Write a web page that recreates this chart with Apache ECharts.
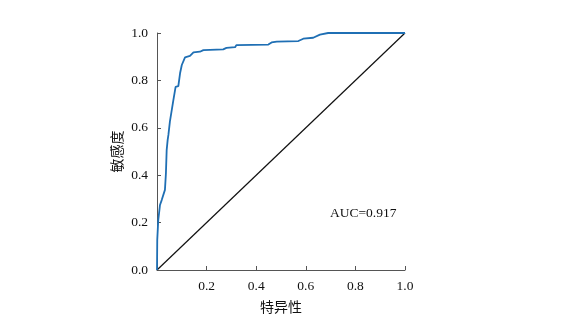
<!DOCTYPE html>
<html>
<head>
<meta charset="utf-8">
<script src="https://cdn.jsdelivr.net/npm/echarts@6/dist/echarts.min.js"></script>
<style>html,body{margin:0;padding:0;background:#fff}#c{width:586px;height:326px}</style>
</head>
<body>
<div id="c"></div>
<script>
// 1 - specificity (x) and sensitivity (y) of ROC curve
const rocX = [0, 0.001, 0.005, 0.012, 0.019, 0.032, 0.036, 0.039, 0.043, 0.046, 0.052, 0.058, 0.066, 0.075, 0.086, 0.093, 0.1, 0.113, 0.133, 0.147, 0.173, 0.187, 0.267, 0.28, 0.315, 0.32, 0.449, 0.462, 0.483, 0.57, 0.59, 0.63, 0.657, 0.69, 1.0];
const rocY = [0, 0.127, 0.21, 0.274, 0.295, 0.338, 0.408, 0.506, 0.549, 0.57, 0.626, 0.632, 0.717, 0.773, 0.776, 0.83, 0.865, 0.897, 0.903, 0.918, 0.921, 0.928, 0.931, 0.937, 0.94, 0.949, 0.951, 0.96, 0.964, 0.966, 0.976, 0.98, 0.993, 1.0, 1.0];
const refX = [0, 1];
const refY = [0, 1];
const xTicks = ['0.2', '0.4', '0.6', '0.8', '1.0'];
const yTicks = ['0.0', '0.2', '0.4', '0.6', '0.8', '1.0'];
const aucText = 'AUC=0.917';
const xName = '特异性';
const yName = '敏感度';

const serif = '"Liberation Serif", "DejaVu Serif", "Noto Sans CJK SC", serif';
const chart = echarts.init(document.getElementById('c'));
chart.setOption({
  animation: false,
  backgroundColor: '#fff',
  grid: { left: 157, right: 181, top: 33, bottom: 56, containLabel: false },
  xAxis: {
    type: 'value', min: 0, max: 1, interval: 0.2,
    name: xName, nameLocation: 'middle', nameGap: 30,
    nameTextStyle: { fontFamily: '"Noto Sans CJK SC"', fontSize: 14, color: '#111' },
    axisLine: { show: true, lineStyle: { color: '#555', width: 1 } },
    axisTick: { show: true, inside: true, length: 4, lineStyle: { color: '#555' } },
    splitLine: { show: false },
    axisLabel: {
      fontFamily: serif, fontSize: 13.5, color: '#111', margin: 10,
      formatter: v => { const s = v.toFixed(1); return xTicks.includes(s) ? s : ''; }
    }
  },
  yAxis: {
    type: 'value', min: 0, max: 1, interval: 0.2,
    name: yName, nameLocation: 'middle', nameGap: 33, nameRotate: 90,
    nameTextStyle: { fontFamily: '"Noto Sans CJK SC"', fontSize: 14, color: '#111' },
    axisLine: { show: true, lineStyle: { color: '#555', width: 1 } },
    axisTick: { show: true, inside: true, length: 4, lineStyle: { color: '#555' } },
    splitLine: { show: false },
    axisLabel: {
      fontFamily: serif, fontSize: 13.5, color: '#111', margin: 9,
      formatter: v => { const s = v.toFixed(1); return yTicks.includes(s) ? s : ''; }
    }
  },
  series: [
    {
      type: 'line', data: refX.map((x, i) => [x, refY[i]]),
      symbol: 'none', lineStyle: { color: '#111', width: 1.2 }, z: 2
    },
    {
      type: 'line', data: rocX.map((x, i) => [x, rocY[i]]),
      symbol: 'none', lineStyle: { color: '#1f6fb4', width: 1.8 }, z: 3
    }
  ],
  graphic: [{
    type: 'text', left: 330, top: 207,
    style: { text: aucText, font: '13.5px ' + serif, fill: '#111' }
  }]
});
</script>
</body>
</html>
